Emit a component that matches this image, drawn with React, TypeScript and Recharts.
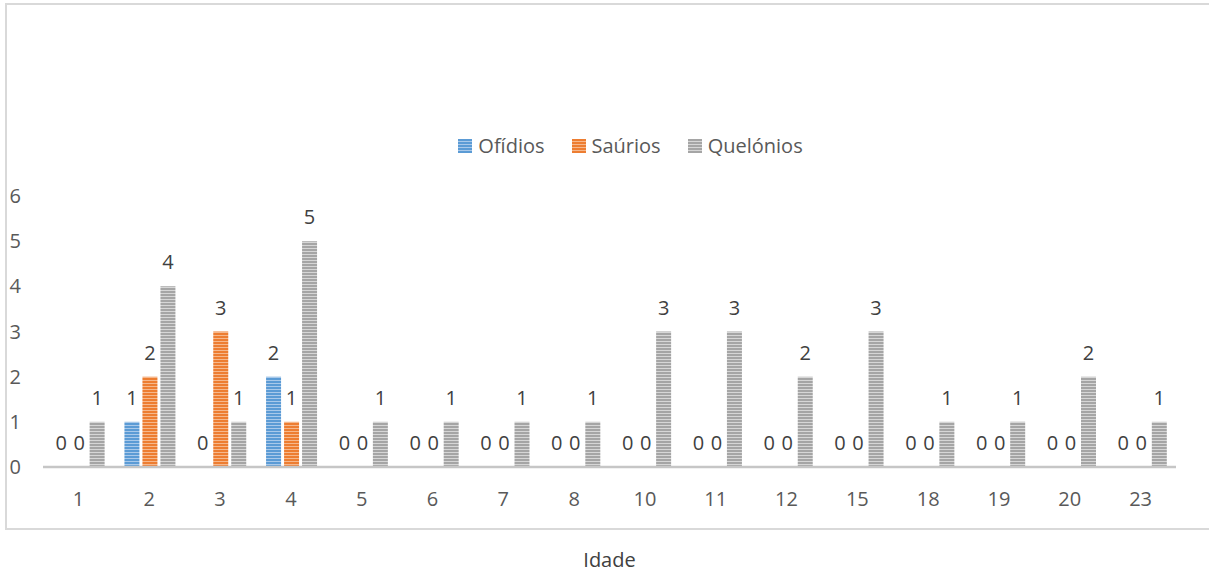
import React from 'react';
import { BarChart, Bar, XAxis, YAxis, Legend, LabelList, Label } from 'recharts';

const idades = ['1', '2', '3', '4', '5', '6', '7', '8', '10', '11', '12', '15', '18', '19', '20', '23'];
const ofidios = [0, 1, 0, 2, 0, 0, 0, 0, 0, 0, 0, 0, 0, 0, 0, 0];
const saurios = [0, 2, 3, 1, 0, 0, 0, 0, 0, 0, 0, 0, 0, 0, 0, 0];
const quelonios = [1, 4, 1, 5, 1, 1, 1, 1, 3, 3, 2, 3, 1, 1, 2, 1];
const yTicks = [0, 1, 2, 3, 4, 5, 6];

const data = idades.map((idade, i) => ({
  idade,
  Ofidios: ofidios[i],
  Saurios: saurios[i],
  Quelonios: quelonios[i],
}));

const series = [
  { key: 'Ofidios', name: 'Ofídios', base: '#5b9bd5', light: '#a9c9ea', id: 'stripe-ofidios' },
  { key: 'Saurios', name: 'Saúrios', base: '#ed7d31', light: '#f6b88c', id: 'stripe-saurios' },
  { key: 'Quelonios', name: 'Quelónios', base: '#a5a5a5', light: '#d6d6d6', id: 'stripe-quelonios' },
];

const FONT = '"Open Sans", "Noto Sans", sans-serif';
const TEXT_SIZE = 20;
const labelStyle = { fontSize: TEXT_SIZE, fill: '#404040', fontFamily: FONT };

// Narrow horizontal stripe fills shared by bars and legend swatches
function StripeDefs() {
  return (
    <svg width={0} height={0} style={{ position: 'absolute' }}>
      <defs>
        {series.map((s) => (
          <pattern key={s.id} id={s.id} patternUnits="userSpaceOnUse" width={4} height={3}>
            <rect x={0} y={0} width={4} height={3} fill={s.light} />
            <rect x={0} y={0} width={4} height={2} fill={s.base} />
          </pattern>
        ))}
      </defs>
    </svg>
  );
}

function LegendContent() {
  return (
    <div style={{ display: 'flex', justifyContent: 'center', alignItems: 'center', paddingLeft: 85, fontFamily: FONT, fontSize: TEXT_SIZE, color: '#595959', lineHeight: '24px', height: 24 }}>
      {series.map((s, i) => (
        <div key={s.key} style={{ display: 'flex', alignItems: 'center', marginLeft: i === 0 ? 0 : 27 }}>
          <svg width={14} height={14} style={{ marginRight: 6 }}>
            <rect x={0} y={0} width={14} height={14} fill={`url(#${s.id})`} />
          </svg>
          <span>{s.name}</span>
        </div>
      ))}
    </div>
  );
}

export default function App() {
  return (
    <div style={{ position: 'absolute', left: 0, top: 0, width: 1209, height: 573, background: '#fff', overflow: 'hidden', fontFamily: FONT }}>
      <StripeDefs />
      <div style={{ position: 'absolute', left: 5, top: 3, width: 1215, height: 527, boxSizing: 'border-box', border: '2px solid #d9d9d9' }} />
      <div style={{ position: 'absolute', left: 0, top: 0 }}>
        <BarChart
          width={1209}
          height={573}
          data={data}
          margin={{ top: 172, right: 33, left: 0, bottom: 0 }}
          barGap={3}
          barCategoryGap="15%"
        >
          <XAxis
            dataKey="idade"
            height={106}
            tickLine={false}
            tickSize={0}
            tickMargin={25}
            axisLine={{ stroke: '#c6c6c6', strokeWidth: 2.5 }}
            tick={{ fontSize: TEXT_SIZE, fill: '#595959', fontFamily: FONT }}
            interval={0}
          >
            <Label value="Idade" position="insideBottom" offset={6} style={labelStyle} />
          </XAxis>
          <YAxis
            width={43}
            domain={[0, 6]}
            ticks={yTicks}
            axisLine={false}
            tickLine={false}
            tickSize={0}
            tickMargin={22}
            tick={{ fontSize: TEXT_SIZE, fill: '#595959', fontFamily: FONT }}
          />
          <Legend verticalAlign="top" wrapperStyle={{ top: 134 }} content={<LegendContent />} />
          {series.map((s) => (
            <Bar
              key={s.key}
              dataKey={s.key}
              name={s.name}
              fill={`url(#${s.id})`}
              minPointSize={0.01}
              isAnimationActive={false}
            >
              <LabelList dataKey={s.key} position="top" offset={17} style={labelStyle} />
            </Bar>
          ))}
        </BarChart>
      </div>
    </div>
  );
}
